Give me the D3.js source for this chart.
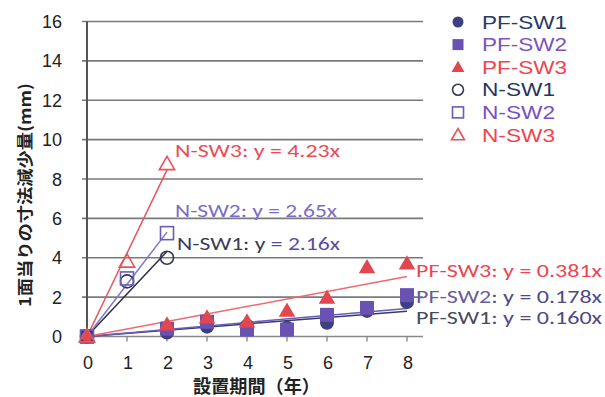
<!DOCTYPE html>
<html>
<head>
<meta charset="utf-8">
<script src="https://cdn.jsdelivr.net/npm/d3@7"></script>
<style>
  body { margin: 0; background: #fff; }
  text { font-family: "Liberation Sans", Arial, sans-serif; }
</style>
</head>
<body>
<div id="chart"></div>
<script>
// data
var yTicks = [0, 2, 4, 6, 8, 10, 12, 14, 16];
var xTicks = [0, 1, 2, 3, 4, 5, 6, 7, 8];

var pfYears = [0, 2, 3, 4, 5, 6, 7, 8];
var pfSW1 = [0, 0.2, 0.5, 0.55, 0.45, 0.7, 1.3, 1.75];
var pfSW2 = [0, 0.4, 0.75, 0.35, 0.35, 1.1, 1.45, 2.1];
var pfSW3 = [0, 0.6, 0.95, 0.75, 1.3, 1.95, 3.5, 3.7];

var nYears = [0, 1, 2];
var nSW1 = [0, 2.8, 4.0];
var nSW2 = [0, 2.95, 5.25];
var nSW3 = [0, 3.8, 8.75];

var seriesNames = ["PF-SW1", "PF-SW2", "PF-SW3", "N-SW1", "N-SW2", "N-SW3"];
var slopes = [0.160, 0.178, 0.381, 2.16, 2.65, 4.23];
var fitEnd = [8, 8, 8, 2, 2, 2];

var w = 605, h = 397;

var x = d3.scaleLinear().domain([0, 8]).range([87, 407]);
var y = d3.scaleLinear().domain([0, 16]).range([336.5, 21.5]);

var colors = {
    "PF-SW1": "#3d3f7e",
    "PF-SW2": "#6a52b3",
    "PF-SW3": "#e2474f",
    "N-SW1": "#35365a",
    "N-SW2": "#6a5cb8",
    "N-SW3": "#e5535a"
};
var lineColors = ["#343a6e", "#6a5cb8", "#ee6a70", "#2e2e44", "#8078c8", "#e8545a"];

var series = [
    {name: "PF-SW1", xs: pfYears, ys: pfSW1, shape: "circle", filled: true},
    {name: "PF-SW2", xs: pfYears, ys: pfSW2, shape: "square", filled: true},
    {name: "PF-SW3", xs: pfYears, ys: pfSW3, shape: "triangle", filled: true},
    {name: "N-SW1", xs: nYears, ys: nSW1, shape: "circle", filled: false},
    {name: "N-SW2", xs: nYears, ys: nSW2, shape: "square", filled: false},
    {name: "N-SW3", xs: nYears, ys: nSW3, shape: "triangle", filled: false}
];

var svg = d3.select("#chart")
            .append("svg")
            .attr("width", w)
            .attr("height", h);

svg.append("rect").attr("width", w).attr("height", h).attr("fill", "#fff");

// horizontal grid lines
svg.selectAll("line.grid")
    .data(yTicks)
    .enter()
    .append("line")
    .attr("class", "grid")
    .attr("x1", 82)
    .attr("x2", 423)
    .attr("y1", d => y(d))
    .attr("y2", d => y(d))
    .attr("stroke", d => d === 0 ? "#8a8a8a" : "#7a7a7a")
    .attr("stroke-width", 1.6);

// x tick marks
svg.selectAll("line.xtick")
    .data(xTicks)
    .enter()
    .append("line")
    .attr("x1", d => x(d))
    .attr("x2", d => x(d))
    .attr("y1", y(0))
    .attr("y2", y(0) + 5)
    .attr("stroke", "#777")
    .attr("stroke-width", 1.2);

// y axis line
svg.append("line")
    .attr("x1", x(0)).attr("x2", x(0))
    .attr("y1", y(16)).attr("y2", y(0))
    .attr("stroke", "#555")
    .attr("stroke-width", 2);

// tick labels
svg.selectAll("text.ylab")
    .data(yTicks)
    .enter()
    .append("text")
    .attr("x", 62)
    .attr("y", d => y(d) + 6.5)
    .attr("text-anchor", "end")
    .attr("font-size", 18)
    .attr("fill", "#222")
    .text(d => d);

svg.selectAll("text.xlab")
    .data(xTicks)
    .enter()
    .append("text")
    .attr("x", d => x(d) + 1)
    .attr("y", 369)
    .attr("text-anchor", "middle")
    .attr("font-size", 18)
    .attr("fill", "#222")
    .text(d => d);

// axis titles
svg.append("text")
    .attr("x", 193)
    .attr("y", 393)
    .attr("font-size", 18)
    .attr("font-weight", "bold")
    .attr("fill", "#222")
    .attr("textLength", 127)
    .attr("lengthAdjust", "spacingAndGlyphs")
    .style("font-family", "'Noto Sans CJK JP', sans-serif")
    .text("設置期間（年）");

svg.append("text")
    .attr("transform", "translate(31,307) rotate(-90)")
    .attr("font-size", 16)
    .attr("font-weight", "bold")
    .attr("fill", "#222")
    .attr("textLength", 224)
    .attr("lengthAdjust", "spacingAndGlyphs")
    .style("font-family", "'Noto Sans CJK JP', sans-serif")
    .text("1面当りの寸法減少量(mm)");

// fitted lines y = a x
series.forEach(function(s, i) {
    svg.append("line")
        .attr("x1", x(0)).attr("y1", y(0))
        .attr("x2", x(fitEnd[i])).attr("y2", y(slopes[i] * fitEnd[i]))
        .attr("stroke", lineColors[i])
        .attr("stroke-width", 1.5);
});

function drawMarker(g, shape, cx, cy, size, color, filled) {
    var m;
    if (shape === "circle") {
        m = g.append("circle").attr("cx", cx).attr("cy", cy).attr("r", size / 2);
    } else if (shape === "square") {
        m = g.append("rect").attr("x", cx - size / 2).attr("y", cy - size / 2)
             .attr("width", size).attr("height", size);
    } else {
        var sym = d3.symbol().type(d3.symbolTriangle).size(size * size * 0.6);
        m = g.append("path").attr("d", sym).attr("transform", "translate(" + cx + "," + (cy + 1) + ")");
    }
    if (filled) {
        m.attr("fill", color).attr("stroke", "none");
    } else {
        m.attr("fill", "none").attr("stroke", color).attr("stroke-width", 1.6);
    }
}

// points, PF ones first so N outlines sit on top
var pts = svg.append("g");
series.forEach(function(s) {
    s.xs.forEach(function(xv, j) {
        drawMarker(pts, s.shape, x(xv), y(s.ys[j]), s.filled ? 14 : 13,
                   colors[s.name], s.filled);
    });
});

// legend
var legend = svg.append("g");
var legendText = ["#263a62", "#7a52c2", "#f0434f", "#233560", "#7650c4", "#f0434f"];
series.forEach(function(s, i) {
    var ly = 22 + i * 22.6;
    drawMarker(legend, s.shape, 458, ly, 11, colors[s.name], s.filled);
    legend.append("text")
        .attr("x", 482)
        .attr("y", ly + 6.5)
        .attr("font-size", 18)
        .attr("fill", legendText[i])
        .attr("textLength", s.name.length === 6 ? 85 : 73)
        .attr("lengthAdjust", "spacingAndGlyphs")
        .text(s.name);
});

// equation labels
var labels = [
    {x: 175, y: 157, len: 165, parts: [["N-SW3: y = 4.23x", "#ee4a55"]]},
    {x: 175, y: 217, len: 162, parts: [["N-SW2: y = 2.65x", "#7a6cc4"]]},
    {x: 177, y: 250, len: 163, parts: [["N-SW1: y ", "#3a3c55"], ["= 2.16x", "#5a4aa6"]]},
    {x: 416, y: 277, len: 186, parts: [["PF-SW3: y = 0.381x", "#ef4450"]]},
    {x: 416, y: 303, len: 186, parts: [["PF-SW2", "#6a5c9a"], [": y = 0.178x", "#4e4a86"]]},
    {x: 416, y: 324, len: 186, parts: [["PF-SW1", "#4a4a5e"], [": y = 0.160x", "#4e4a86"]]}
];
labels.forEach(function(l) {
    var t = svg.append("text")
        .attr("x", l.x)
        .attr("y", l.y)
        .attr("font-size", 18)
        .attr("textLength", l.len)
        .attr("lengthAdjust", "spacingAndGlyphs")
        .style("font-family", "Carlito, 'Liberation Sans', sans-serif");
    l.parts.forEach(function(p) {
        t.append("tspan").attr("fill", p[1]).text(p[0]);
    });
});
</script>
</body>
</html>
